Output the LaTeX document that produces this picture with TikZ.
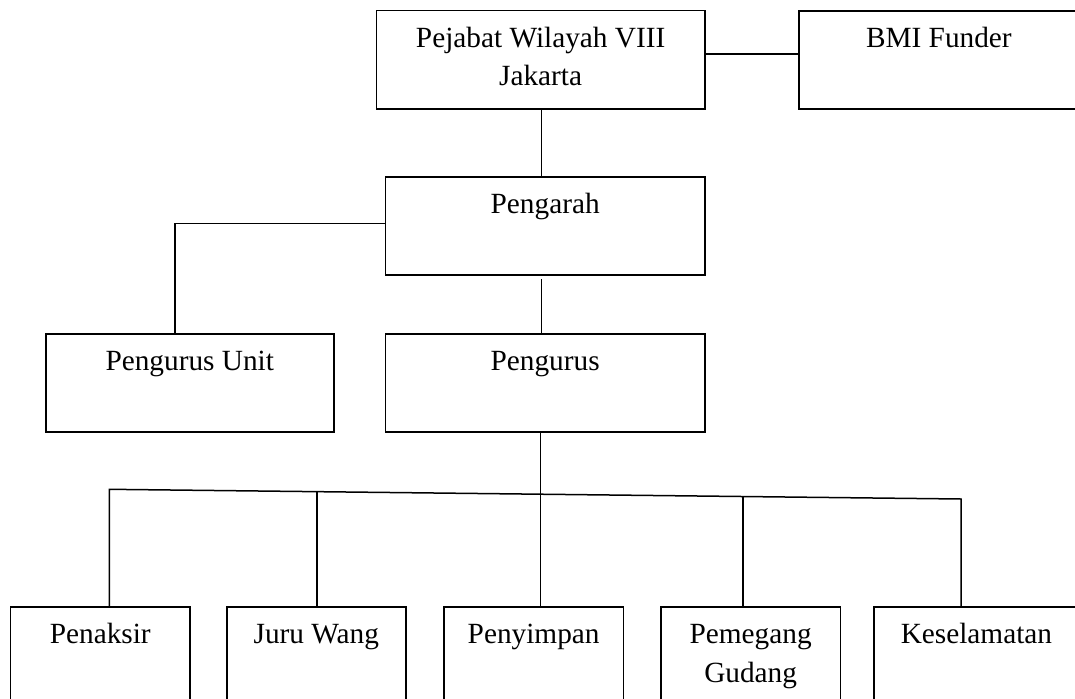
\documentclass[tikz,border=0pt]{standalone}
\usepackage{fontspec}
\setmainfont{Liberation Serif}
\usetikzlibrary{calc}

\tikzset{
  orgbox/.style={draw, line width=1.8pt, inner sep=0pt, anchor=north west,
                 font=\fontsize{29.3}{38.3}\selectfont},
  link/.style={line width=1.5pt}
}
% box of given width and height, text set from the top
\newcommand{\boxtext}[3]{\parbox[c][#2pt][t]{#1pt}{\centering\rule{0pt}{37pt}#3}}

\begin{document}
\begin{tikzpicture}[x=1pt,y=-1pt]
  \useasboundingbox (0,0) rectangle (1075,698);
  \clip (0,0) rectangle (1075,698);

  % top level
  \node[orgbox] (pejabat) at (375.5,9.7) {\boxtext{328.5}{98.3}{Pejabat Wilayah VIII\\Jakarta}};
  \node[orgbox] (bmi) at (798,10) {\boxtext{280}{98}{BMI Funder}};
  % middle levels
  \node[orgbox] (pengarah) at (384.6,175.7) {\boxtext{319.4}{98.3}{Pengarah}};
  \node[orgbox] (unit) at (45,332.7) {\boxtext{287.7}{98}{Pengurus Unit}};
  \node[orgbox] (pengurus) at (384.5,332.7) {\boxtext{319.5}{98}{Pengurus}};
  % bottom row
  \node[orgbox] (penaksir) at (9.5,606) {\boxtext{179.8}{99}{Penaksir}};
  \node[orgbox] (juru) at (225.8,606) {\boxtext{179.2}{99}{Juru Wang}};
  \node[orgbox] (penyimpan) at (443,606) {\boxtext{179.5}{99}{Penyimpan}};
  \node[orgbox] (pemegang) at (660,606) {\boxtext{179.5}{99}{Pemegang\\Gudang}};
  \node[orgbox] (keselamatan) at (873,606) {\boxtext{205}{99}{Keselamatan}};

  % links between upper boxes
  \coordinate (spine) at ([xshift=1pt]pejabat.south);
  \draw[link] ([yshift=5.5pt]pejabat.east) -- ([yshift=5.5pt]pejabat.east -| bmi.west);
  \draw[link] (spine) -- (spine |- pengarah.north);
  \draw[link] ([yshift=2.3pt]pengarah.west) -| ([xshift=-14.9pt]unit.north);
  \draw[link] ([yshift=-3.5pt]pengarah.south -| spine) -- (pengurus.north -| spine);

  % bus to the bottom row (slightly slanted)
  \coordinate (busL) at (109.4,489.3);
  \coordinate (busR) at (961,499);
  \draw[link] (penaksir.north -| busL) -- (busL) -- (busR) -- (busR |- keselamatan.north);
  \path (busL) -- (busR) coordinate[pos=0.2438] (b2) coordinate[pos=0.5062] (b3)
                         coordinate[pos=0.744] (b4);
  \draw[link] (pengurus.south -| b3) -- (b3);
  \foreach \pt/\bx in {b2/juru, b3/penyimpan, b4/pemegang}
    \draw[link] (\pt) -- (\pt |- \bx.north);
\end{tikzpicture}
\end{document}
